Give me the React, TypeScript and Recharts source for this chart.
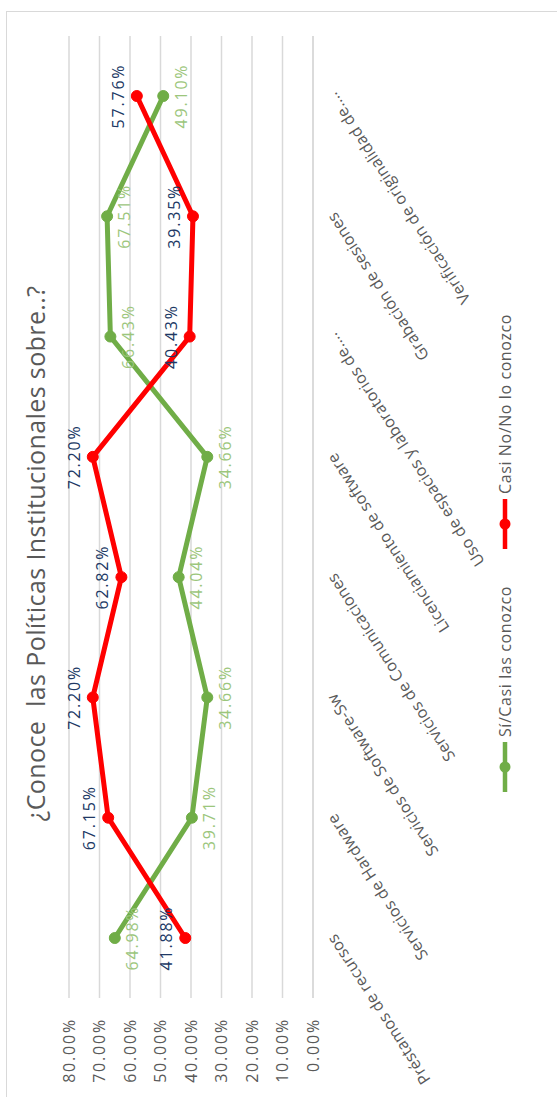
import { LineChart, Line, XAxis, YAxis, CartesianGrid, LabelList } from 'recharts';

const title = '¿Conoce  las Políticas Institucionales sobre..?';

const categories = [
  'Préstamos de recursos',
  'Servicios de Hardware',
  'Servicios de Software-Sw',
  'Servicios de Comunicaciones',
  'Licenciamiento de software',
  'Uso de espacios y laboratorios de....',
  'Grabación de sesiones',
  'Verificación de originalidad de....',
];

const siConozco = [64.98, 39.71, 34.66, 44.04, 34.66, 66.43, 67.51, 49.1];
const noConozco = [41.88, 67.15, 72.2, 62.82, 72.2, 40.43, 39.35, 57.76];

const valueTicks = [0, 10, 20, 30, 40, 50, 60, 70, 80];

const seriesNames = ['Sí/Casi las conozco', 'Casi No/No lo conozco'];

const GREEN = '#70ad47';
const RED = '#ff0000';
const GREY = '#595959';
const GRID = '#d9d9d9';

const data = categories.map((name, i) => ({
  name,
  si: siConozco[i],
  no: noConozco[i],
}));

const fmt = (v: number) => `${Number(v).toFixed(2)}%`;

// categories are drawn slanted, ending at the tick
const CategoryTick = ({ x, y, payload }: any) => (
  <g transform={`translate(${x + 2},${y + 10})`}>
    <text
      transform="rotate(-33)"
      textAnchor="end"
      dy="0.35em"
      fill={GREY}
      fontSize={16}
      fontFamily='"Open Sans", sans-serif'
      style={{ letterSpacing: 0.2 }}
    >
      {payload.value}
    </text>
  </g>
);

const LegendItem = ({ color, label }: { color: string; label: string }) => (
  <div style={{ display: 'flex', alignItems: 'center', gap: 4 }}>
    <svg width={52} height={14}>
      <line x1={1} y1={7} x2={51} y2={7} stroke={color} strokeWidth={4.5} />
      <circle cx={26} cy={7} r={5.5} fill={color} />
    </svg>
    <span style={{ fontSize: 16, color: GREY, letterSpacing: 0.6 }}>{label}</span>
  </div>
);

export default function App() {
  return (
    <div
      style={{
        position: 'fixed',
        left: 0,
        top: 0,
        width: 557,
        height: 1097,
        overflow: 'hidden',
        background: '#fff',
      }}
    >
      {/* the whole chart is turned a quarter turn to the left */}
      <div
        style={{
          position: 'absolute',
          left: 0,
          top: 0,
          width: 1097,
          height: 557,
          transformOrigin: '0 0',
          transform: 'translate(0px, 1097px) rotate(-90deg)',
          fontFamily: '"Open Sans", sans-serif',
        }}
      >
        <div
          style={{
            position: 'absolute',
            left: -4,
            top: 6,
            width: 1090,
            height: 700,
            border: `1.5px solid ${GRID}`,
            boxSizing: 'border-box',
          }}
        />
        <div
          style={{
            position: 'absolute',
            left: 0,
            top: 19,
            width: 1087,
            textAlign: 'center',
            fontSize: 25,
            lineHeight: '32px',
            color: GREY,
            whiteSpace: 'pre',
            letterSpacing: 0.4,
          }}
        >
          {title}
        </div>
        <div style={{ position: 'absolute', left: 0, top: 0, letterSpacing: 1.8 }}>
          <LineChart
            width={1097}
            height={557}
            data={data}
            margin={{ top: 69, right: 36, bottom: 44, left: 0 }}
          >
            <CartesianGrid vertical={false} stroke={GRID} strokeWidth={1.5} />
            <XAxis
              dataKey="name"
              height={200}
              interval={0}
              padding={{ left: 60, right: 60 }}
              axisLine={{ stroke: GRID, strokeWidth: 1.5 }}
              tickLine={false}
              tick={<CategoryTick />}
            />
            <YAxis
              width={99}
              domain={[0, 80]}
              ticks={valueTicks}
              tickFormatter={fmt}
              axisLine={false}
              tickLine={false}
              tickMargin={14}
              tick={{ fill: GREY, fontSize: 16 }}
            />
            <Line
              dataKey="si"
              name={seriesNames[0]}
              stroke={GREEN}
              strokeWidth={5}
              dot={{ r: 5.5, fill: GREEN, stroke: GREEN, strokeWidth: 1 }}
              isAnimationActive={false}
            >
              <LabelList
                dataKey="si"
                position="bottom"
                offset={12}
                formatter={fmt}
                fill="#9cc67c"
                fontSize={16}
              />
            </Line>
            <Line
              dataKey="no"
              name={seriesNames[1]}
              stroke={RED}
              strokeWidth={5}
              dot={{ r: 5.5, fill: RED, stroke: RED, strokeWidth: 1 }}
              isAnimationActive={false}
            >
              <LabelList
                dataKey="no"
                position="top"
                offset={13}
                formatter={fmt}
                fill="#203864"
                fontSize={16}
              />
            </Line>
          </LineChart>
        </div>
        <div
          style={{
            position: 'absolute',
            left: 0,
            top: 493,
            width: 1087,
            height: 24,
            display: 'flex',
            justifyContent: 'center',
            alignItems: 'center',
            gap: 36,
          }}
        >
          <LegendItem color={GREEN} label={seriesNames[0]} />
          <LegendItem color={RED} label={seriesNames[1]} />
        </div>
      </div>
    </div>
  );
}
